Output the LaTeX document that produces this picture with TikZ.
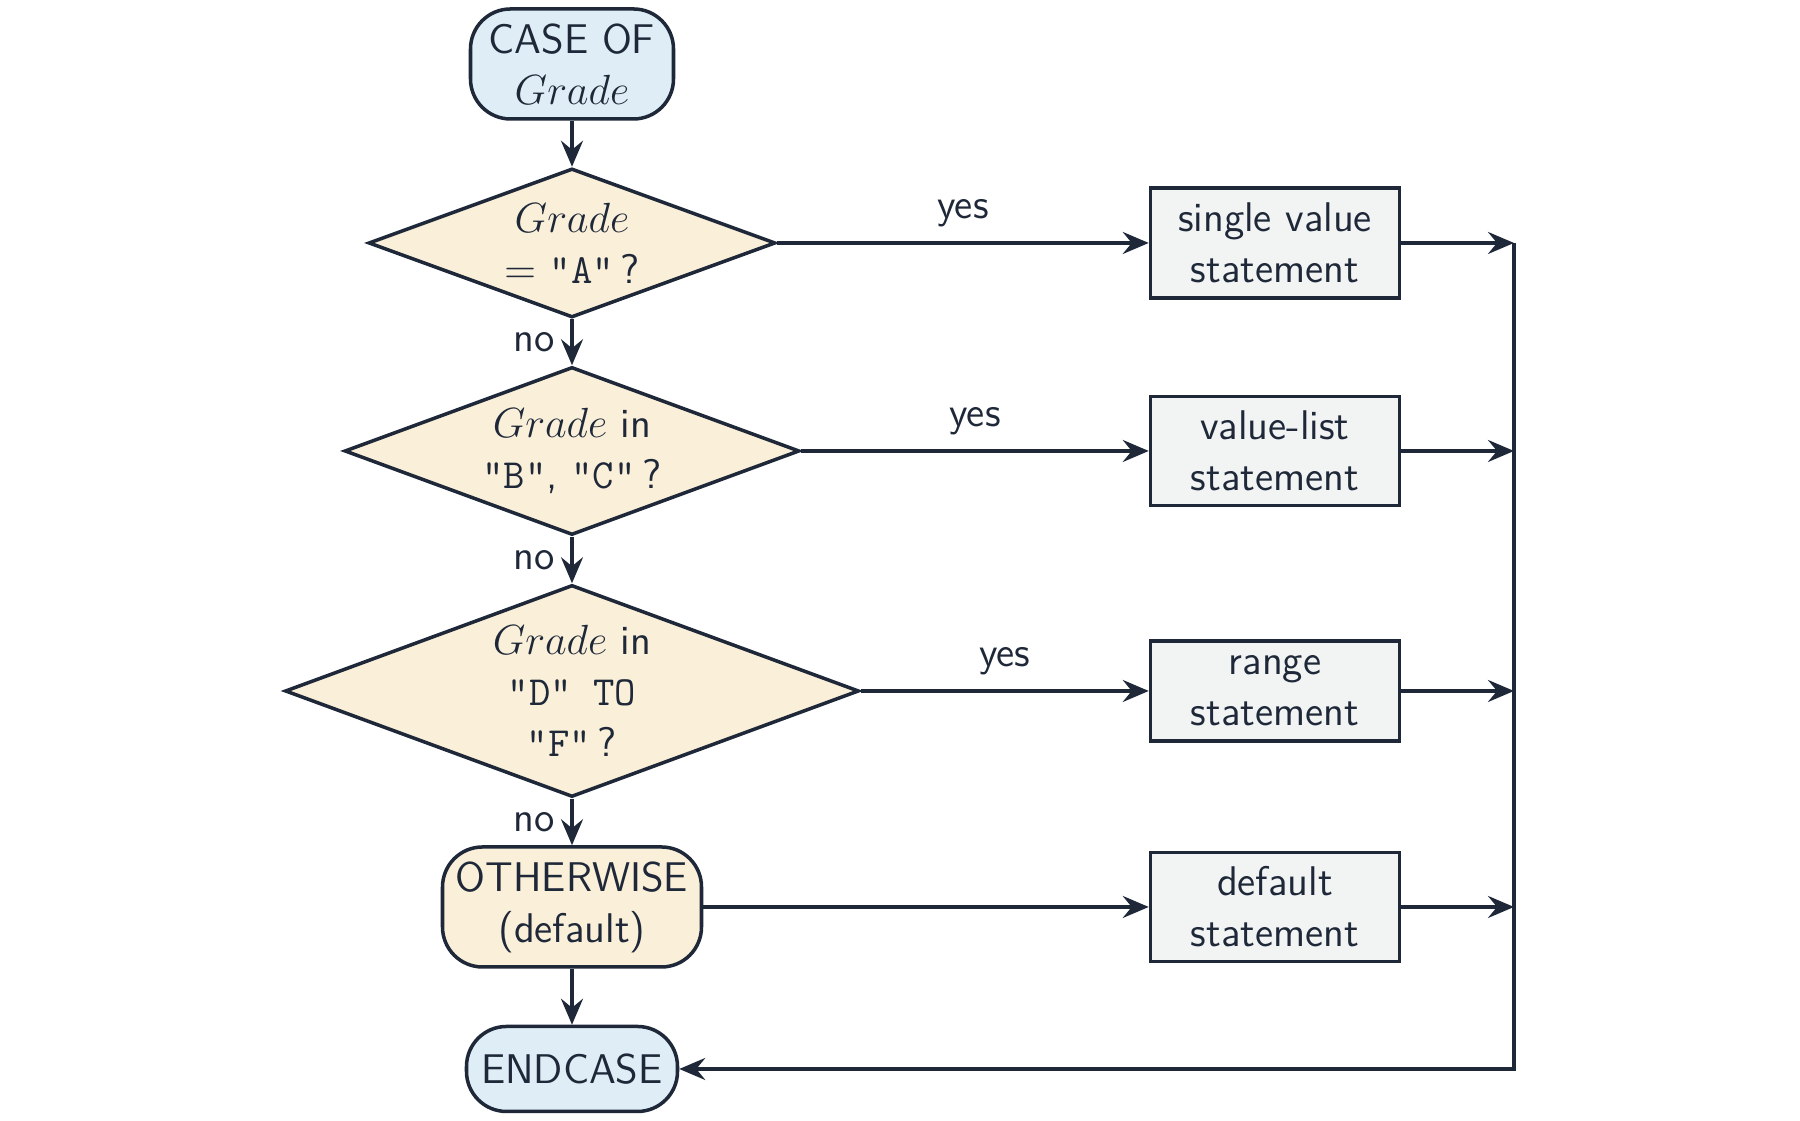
\documentclass[tikz,border=0pt]{standalone}
\usepackage{amsmath}
\usepackage{tikz}
\usetikzlibrary{shapes.geometric, arrows.meta, positioning, calc}

\definecolor{inkcol}{HTML}{1E2838}
\definecolor{termfill}{HTML}{DFEEF6}
\definecolor{decfill}{HTML}{FAEFD9}
\definecolor{stmtfill}{HTML}{F2F4F4}

\begin{document}
\begin{tikzpicture}[
  font=\sffamily\fontsize{11.8}{14.5}\selectfont,
  color=inkcol, line width=1pt,
  terminal/.style={draw, rectangle, rounded corners=0.4cm, align=center, fill=#1, inner sep=0pt},
  decision/.style={draw, diamond, align=center, fill=decfill, inner sep=0pt},
  stmt/.style={draw, rectangle, align=center, fill=stmtfill, minimum width=2.49cm, inner sep=0pt},
  flow/.style={-{Stealth[length=2.6mm, width=2.2mm, inset=0.9mm]}},
  lbl/.style={inner sep=2pt}
]
\useasboundingbox (0,0) rectangle (18,11.21);

% Main chain
\node[terminal=termfill, minimum width=2.03cm, minimum height=1.10cm] (caseof) at (5.72, 10.57) {CASE OF\\ $Grade$};
\node[decision, minimum width=4.07cm, minimum height=1.49cm, aspect=2.73] (testa) at (5.72, 8.78) {$Grade$\\ $=$ \texttt{"A"}\,?};
\node[decision, minimum width=4.55cm, minimum height=1.68cm, aspect=2.71] (testbc) at (5.72, 6.70) {$Grade$ in\\ \texttt{"B"}, \texttt{"C"}\,?};
\node[decision, minimum width=5.74cm, minimum height=2.12cm, aspect=2.71] (testdf) at (5.72, 4.30) {$Grade$ in\\ \texttt{"D" TO}\\ \texttt{"F"}\,?};
\node[terminal=decfill, minimum width=2.59cm, minimum height=1.20cm] (otherwise) at (5.72, 2.14) {OTHERWISE\\ (default)};
\node[terminal=termfill, minimum width=2.11cm, minimum height=0.85cm] (endcase) at (5.72, 0.52) {ENDCASE};

% Statements
\node[stmt, minimum height=1.10cm] (single) at (12.75, 8.78) {single value\\ statement};
\node[stmt, minimum height=1.09cm] (valuelist) at (12.75, 6.70) {value-list\\ statement};
\node[stmt, minimum height=1.00cm] (range) at (12.75, 4.30) {range\\ statement};
\node[stmt, minimum height=1.09cm] (default) at (12.75, 2.14) {default\\ statement};

% Join points on the return line
\coordinate (jsingle) at (15.14, 8.78);
\coordinate (jvaluelist) at (15.14, 6.70);
\coordinate (jrange) at (15.14, 4.30);
\coordinate (jdefault) at (15.14, 2.14);

% Down the chain
\draw[flow] (caseof) -- (testa);
\draw[flow] (testa) -- node[lbl, left=2.5pt] {no} (testbc);
\draw[flow] (testbc) -- node[lbl, left=2.5pt] {no} (testdf);
\draw[flow] (testdf) -- node[lbl, left=2.5pt] {no} (otherwise);
\draw[flow] (otherwise) -- (endcase);

% Branches
\draw[flow] (testa.east) -- node[lbl, above=2pt] {yes} (single);
\draw[flow] (testbc.east) -- node[lbl, above=2pt] {yes} (valuelist);
\draw[flow] (testdf.east) -- node[lbl, above=2pt] {yes} (range);
\draw[flow] (otherwise) -- (default);

% Back to ENDCASE
\draw[flow] (single) -- (jsingle);
\draw[flow] (valuelist) -- (jvaluelist);
\draw[flow] (range) -- (jrange);
\draw[flow] (default) -- (jdefault);
\draw[flow] (jsingle) |- (endcase);

\end{tikzpicture}
\end{document}
